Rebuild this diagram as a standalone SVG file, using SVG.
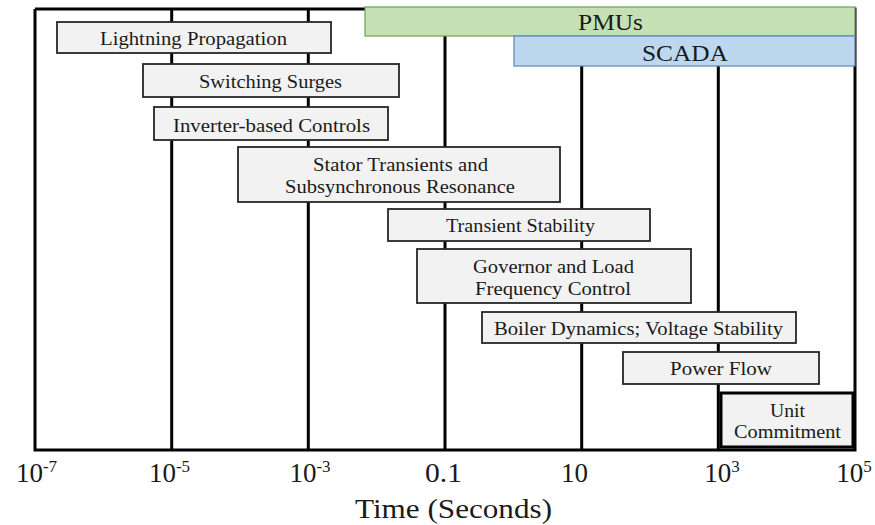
<svg xmlns="http://www.w3.org/2000/svg" width="875" height="525" viewBox="0 0 875 525" font-family="Liberation Serif, serif">
<style>
text{font-family:'Liberation Serif',serif;fill:#1a1a1a}
.grid{stroke:#000;stroke-width:3;fill:none}
.box{fill:#f2f2f2;stroke:#262626;stroke-width:1.8}
.lbl{font-size:18.5px;text-anchor:middle}
.ax{font-size:27px;text-anchor:middle}
.sup{font-size:17px}
</style>
<rect width="875" height="525" fill="#fff"/>
<g id="grid">
<path class="grid" d="M35,9 V450 H855 V9 H35 M171.7,9 V450 M308.3,9 V450 M445,9 V450 M581.7,9 V450 M718.3,9 V450"/>
</g>
<g id="pmus">
<rect x="365" y="7" width="490" height="29" fill="#c5e0b4" stroke="#6f9f52" stroke-width="1.2"/>
<text x="610.5" y="30" style="font-size:23px;text-anchor:middle" textLength="65" lengthAdjust="spacingAndGlyphs">PMUs</text>
</g>
<g id="scada">
<rect x="514" y="36" width="341" height="30" fill="#bdd7ee" stroke="#5a86bd" stroke-width="1.2"/>
<text x="685" y="61" style="font-size:23px;text-anchor:middle" textLength="86" lengthAdjust="spacingAndGlyphs">SCADA</text>
</g>
<g id="lightning">
<rect class="box" x="57" y="22" width="274" height="31"/>
<text class="lbl" x="193.5" y="45" textLength="187" lengthAdjust="spacingAndGlyphs">Lightning Propagation</text>
</g>
<g id="switching">
<rect class="box" x="143" y="64" width="256" height="33"/>
<text class="lbl" x="270.5" y="88" textLength="143" lengthAdjust="spacingAndGlyphs">Switching Surges</text>
</g>
<g id="inverter">
<rect class="box" x="154" y="107" width="234" height="33"/>
<text class="lbl" x="271.5" y="132" textLength="197" lengthAdjust="spacingAndGlyphs">Inverter-based Controls</text>
</g>
<g id="stator">
<rect class="box" x="238" y="147" width="322" height="55"/>
<text class="lbl" x="400.5" y="171" textLength="175" lengthAdjust="spacingAndGlyphs">Stator Transients and</text>
<text class="lbl" x="400" y="193" textLength="230" lengthAdjust="spacingAndGlyphs">Subsynchronous Resonance</text>
</g>
<g id="transient">
<rect class="box" x="388" y="209" width="262" height="32"/>
<text class="lbl" x="520.5" y="232" textLength="149" lengthAdjust="spacingAndGlyphs">Transient Stability</text>
</g>
<g id="governor">
<rect class="box" x="417" y="249" width="274" height="54"/>
<text class="lbl" x="553.5" y="273" textLength="161" lengthAdjust="spacingAndGlyphs">Governor and Load</text>
<text class="lbl" x="553" y="295" textLength="156" lengthAdjust="spacingAndGlyphs">Frequency Control</text>
</g>
<g id="boiler">
<rect class="box" x="482" y="312" width="314" height="31"/>
<text class="lbl" x="638.5" y="335" textLength="289" lengthAdjust="spacingAndGlyphs">Boiler Dynamics; Voltage Stability</text>
</g>
<g id="powerflow">
<rect class="box" x="623" y="352" width="196" height="32"/>
<text class="lbl" x="721" y="375" textLength="102" lengthAdjust="spacingAndGlyphs">Power Flow</text>
</g>
<g id="unit">
<rect x="721" y="393" width="132" height="54" fill="#f2f2f2" stroke="#000" stroke-width="3"/>
<text class="lbl" x="787.5" y="417" textLength="35" lengthAdjust="spacingAndGlyphs">Unit</text>
<text class="lbl" x="787.5" y="438" textLength="107" lengthAdjust="spacingAndGlyphs">Commitment</text>
</g>
<g id="axis-labels">
<text class="ax" x="36.5" y="482">10<tspan class="sup" dy="-10">-7</tspan></text>
<text class="ax" x="169.5" y="482">10<tspan class="sup" dy="-10">-5</tspan></text>
<text class="ax" x="310" y="482">10<tspan class="sup" dy="-10">-3</tspan></text>
<text class="ax" x="443.5" y="482" textLength="37" lengthAdjust="spacingAndGlyphs">0.1</text>
<text class="ax" x="574.5" y="482">10</text>
<text class="ax" x="722" y="482">10<tspan class="sup" dy="-10">3</tspan></text>
<text class="ax" x="854" y="482">10<tspan class="sup" dy="-10">5</tspan></text>
<text class="ax" x="453.5" y="518" style="font-size:28px" textLength="197" lengthAdjust="spacingAndGlyphs">Time (Seconds)</text>
</g>
</svg>
